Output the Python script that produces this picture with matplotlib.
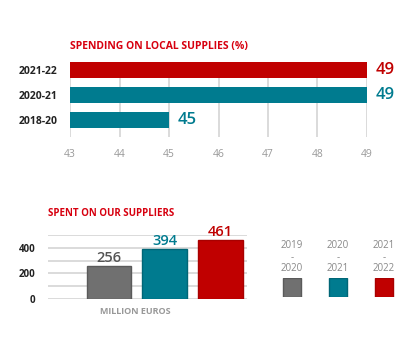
import matplotlib.pyplot as plt

plt.rcParams['font.family'] = ['Open Sans', 'DejaVu Sans']

# Data
periods = ['2018-20', '2020-21', '2021-22']
local_share = [45, 49, 49]
local_colors = ['#007b8f', '#007b8f', '#c00000']

spent_labels = ['2019\n-\n2020', '2020\n-\n2021', '2021\n-\n2022']
spent_values = [256, 394, 461]
spent_colors = ['#707070', '#007b8f', '#c00000']
spent_edges = ['#5a5a5a', '#006676', '#a80000']
label_colors = ['#555555', '#007b8f', '#c00000']

RED = '#d7000f'

fig = plt.figure(figsize=(4.2, 3.54), dpi=100)

# Top: spending on local supplies
ax1 = fig.add_axes([0.1667, 0.613, 0.7071, 0.2119])
y = range(len(periods))
ax1.barh(y, [v - 43 for v in local_share], left=43, height=0.64,
         color=local_colors, zorder=3)
for i, v in enumerate(local_share):
    ax1.text(v + 0.18, i, str(v), color=local_colors[i], fontsize=12,
             fontweight='semibold', va='center', ha='left')
ax1.set_xlim(43, 49)
ax1.set_ylim(-0.68, 2.32)
ax1.set_xticks(range(43, 50))
ax1.set_yticks(list(y))
ax1.set_yticklabels(periods, fontsize=7.5, fontweight='bold', color='#222222')
ax1.tick_params(axis='x', length=0, pad=9, labelsize=7.5, labelcolor='#999999')
ax1.tick_params(axis='y', length=0, pad=9)
ax1.grid(axis='x', color='#d4d4d4', linewidth=1.2, zorder=0)
for s in ax1.spines.values():
    s.set_visible(False)
fig.text(70 / 420, 1 - 47 / 354, 'SPENDING ON LOCAL SUPPLIES (%)', color=RED,
         fontsize=7.5, fontweight='bold', va='center', ha='left')

# Bottom: spent on suppliers
ax2 = fig.add_axes([0.1143, 0.156, 0.4738, 0.18])
x = range(len(spent_values))
ax2.bar(x, spent_values, width=0.8, color=spent_colors,
        edgecolor=spent_edges, linewidth=1, zorder=3)
for i, v in enumerate(spent_values):
    ax2.text(i, v + 8, str(v), color=label_colors[i], fontsize=10.5,
             fontweight='semibold', ha='center', va='bottom')
ax2.set_xlim(-1.094, 2.475)
ax2.set_ylim(0, 500)
ax2.set_yticks(range(0, 501, 100))
ax2.set_yticklabels(['0', '', '200', '', '400', ''], fontsize=7,
                    fontweight='bold', color='#222222')
ax2.set_xticks([])
ax2.tick_params(axis='y', length=0, pad=9)
ax2.grid(axis='y', color='#d4d4d4', linewidth=1.2, zorder=0)
for s in ax2.spines.values():
    s.set_visible(False)
fig.text(48 / 420, 1 - 214 / 354, 'SPENT ON OUR SUPPLIERS', color=RED,
         fontsize=7, fontweight='bold', va='center', ha='left')
fig.text(135 / 420, 1 - 312 / 354, 'MILLION EUROS', color='#999999',
         fontsize=6.5, fontweight='bold', va='center', ha='center')

# Legend
ax3 = fig.add_axes([275 / 420, 1 - 297 / 354, 126 / 420, 19 / 354])
ax3.bar(x, [1] * len(spent_values), width=0.39, color=spent_colors,
        edgecolor=spent_edges, linewidth=1)
ax3.set_xlim(-0.37, 2.37)
ax3.set_ylim(0, 1)
ax3.axis('off')
for i, lab in enumerate(spent_labels):
    ax3.text(i, 1.2, lab, ha='center', va='bottom', fontsize=7,
             color='#888888', linespacing=1.05)

fig.savefig('out.png', dpi=100)
